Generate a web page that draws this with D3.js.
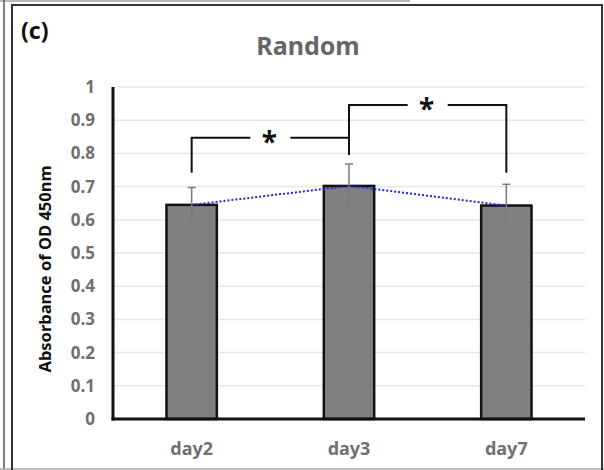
<!DOCTYPE html>
<html>
<head>
<meta charset="utf-8">
<script src="https://cdn.jsdelivr.net/npm/d3@7"></script>
<style>
  html, body { margin: 0; padding: 0; background: #fff; }
  svg { display: block; }
  text { font-family: "Noto Sans", "Open Sans", sans-serif; }
</style>
</head>
<body>
<svg id="chart" width="604" height="470"></svg>
<script>
// Absorbance readings for the random scaffold group
const categories = ["day2", "day3", "day7"];
const means = [0.645, 0.702, 0.643];
const errors = [0.052, 0.066, 0.064];
const yTicks = [0, 0.1, 0.2, 0.3, 0.4, 0.5, 0.6, 0.7, 0.8, 0.9, 1];
const yTickLabels = ["0", "0.1", "0.2", "0.3", "0.4", "0.5", "0.6", "0.7", "0.8", "0.9", "1"];
// Significance brackets: from/to category, bracket height, leg ends
const brackets = [
  { from: "day2", to: "day3", top: 0.847, fromEnd: 0.742, toEnd: 0.795, label: "*" },
  { from: "day3", to: "day7", top: 0.946, fromEnd: 0.847, toEnd: 0.742, label: "*" }
];

const svg = d3.select("#chart");
const W = 604, H = 470;

// Panel frame
svg.append("line").attr("x1", 0).attr("x2", 410).attr("y1", 1).attr("y2", 1)
  .attr("stroke", "#a0a0a0").attr("stroke-width", 1.5);
svg.append("line").attr("x1", 4).attr("x2", 4).attr("y1", 0).attr("y2", H)
  .attr("stroke", "#555").attr("stroke-width", 1.5);
svg.append("line").attr("x1", 0).attr("x2", W).attr("y1", 469).attr("y2", 469)
  .attr("stroke", "#aaa").attr("stroke-width", 1.5);
svg.append("path")
  .attr("d", `M12,${H} L12,5 L602,5 L602,${H}`)
  .attr("fill", "none").attr("stroke", "#333").attr("stroke-width", 2);

const margin = { left: 113, right: 585, top: 87, bottom: 419 };

const x = d3.scaleBand().domain(categories)
  .range([margin.left, margin.right]).paddingInner(0.68).paddingOuter(0.34);
const y = d3.scaleLinear().domain([0, 1]).range([margin.bottom, margin.top]);

// Gridlines
svg.append("g").selectAll("line").data(yTicks.filter(d => d > 0)).join("line")
  .attr("x1", margin.left).attr("x2", margin.right)
  .attr("y1", d => y(d)).attr("y2", d => y(d))
  .attr("stroke", "#e6e6e6").attr("stroke-width", 1.5);

// Y axis tick labels
const yAxis = d3.axisLeft(y).tickValues(yTicks)
  .tickFormat((d, i) => yTickLabels[i]).tickSize(0).tickPadding(18);
const gy = svg.append("g").attr("transform", `translate(${margin.left},0)`).call(yAxis);
gy.select(".domain").remove();
gy.selectAll("text")
  .attr("font-size", 17).attr("font-weight", "bold").attr("fill", "#707070")
  .style("font-family", "'Noto Sans', sans-serif");

// Bars
const bw = x.bandwidth();
svg.append("g").selectAll("rect").data(categories).join("rect")
  .attr("x", d => x(d)).attr("width", bw)
  .attr("y", (d, i) => y(means[i])).attr("height", (d, i) => y(0) - y(means[i]))
  .attr("fill", "#808080").attr("stroke", "#111").attr("stroke-width", 2.5);

// Axes lines
svg.append("line").attr("x1", margin.left).attr("x2", margin.left)
  .attr("y1", y(1)).attr("y2", y(0) + 1.5).attr("stroke", "#111").attr("stroke-width", 3);
svg.append("line").attr("x1", margin.left - 1.5).attr("x2", margin.right)
  .attr("y1", y(0)).attr("y2", y(0)).attr("stroke", "#111").attr("stroke-width", 3);

// Trend line through bar tops
const cx = d => x(d) + bw / 2;
svg.append("path")
  .datum(categories)
  .attr("d", d3.line().x(d => cx(d)).y((d, i) => y(means[i])))
  .attr("fill", "none").attr("stroke", "#2424e0").attr("stroke-width", 2)
  .attr("stroke-dasharray", "2,2");

// Error bars
const eb = svg.append("g").attr("stroke", "#7a7a7a").attr("stroke-width", 1.5);
categories.forEach((c, i) => {
  const hi = y(means[i] + errors[i]), lo = y(means[i] - errors[i]);
  eb.append("line").attr("x1", cx(c)).attr("x2", cx(c)).attr("y1", hi).attr("y2", lo);
  eb.append("line").attr("x1", cx(c) - 4).attr("x2", cx(c) + 4).attr("y1", hi).attr("y2", hi);
  eb.append("line").attr("x1", cx(c) - 4).attr("x2", cx(c) + 4).attr("y1", lo).attr("y2", lo);
});

// Significance brackets
const gb = svg.append("g");
brackets.forEach(b => {
  const x1 = cx(b.from), x2 = cx(b.to), yt = y(b.top);
  const mid = (x1 + x2) / 2, gap = 20;
  gb.append("path")
    .attr("d", `M${x1},${y(b.fromEnd)} L${x1},${yt} L${mid - gap},${yt} M${mid + gap},${yt} L${x2},${yt} L${x2},${y(b.toEnd)}`)
    .attr("fill", "none").attr("stroke", "#111").attr("stroke-width", 2);
  gb.append("text").attr("x", mid - 1).attr("y", yt + 14)
    .attr("text-anchor", "middle").attr("font-size", 28).attr("font-weight", "bold")
    .attr("fill", "#111").text(b.label);
});

// X axis labels
svg.append("g").selectAll("text").data(categories).join("text")
  .attr("x", d => cx(d)).attr("y", 455)
  .attr("text-anchor", "middle").attr("font-size", 18).attr("font-weight", "bold")
  .attr("fill", "#707070").text(d => d);

// Y axis title
svg.append("text")
  .attr("transform", `translate(51,269) rotate(-90)`)
  .attr("text-anchor", "middle").attr("font-size", 16.5).attr("font-weight", "bold")
  .attr("fill", "#111").text("Absorbance of OD 450nm");

// Title and panel label
svg.append("text").attr("x", 308).attr("y", 55)
  .attr("text-anchor", "middle").attr("font-size", 25).attr("font-weight", "bold")
  .attr("fill", "#666").text("Random");
svg.append("text").attr("x", 21).attr("y", 39)
  .attr("font-size", 23).attr("font-weight", "bold")
  .attr("fill", "#111").text("(c)");
</script>
</body>
</html>
